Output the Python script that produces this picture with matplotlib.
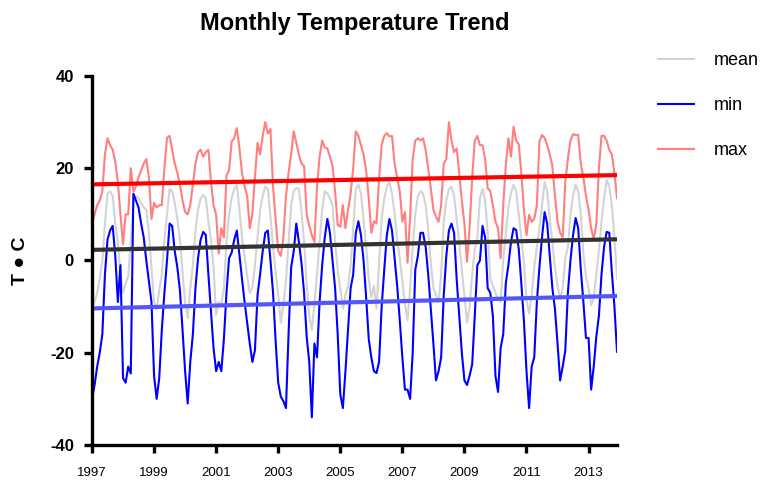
import matplotlib
matplotlib.use("Agg")
import matplotlib.pyplot as plt
import numpy as np

plt.rcParams['font.family'] = ['Liberation Sans', 'DejaVu Sans']

# monthly values, Jan 1997 .. Dec 2013 (one row per year)
mean_t = [
    -10, -9, -7, -4, 0, 8, 14.5, 15, 14, 8, 4, -3,
    -7, -5, -3.5, 4, 12.5, 14, 13.5, 12.5, 11.5, 11, 6, -1.5,
    -9, -10.5, -6.5, -3, 4.5, 10, 15.5, 15, 12.5, 9, 4.5, -2.5,
    -9, -12.5, -6, -1, 6.5, 11, 13.5, 14.2, 13.5, 8.5, 4.5, -1.5,
    -11.8, -9, -9.5, -6, 4, 10, 13.5, 15.5, 16.5, 11, 5, 1,
    -3.5, -7, -6, -1, 5, 11, 14, 16, 15.5, 9.5, 3, -2.5,
    -7.5, -13.5, -9.5, -4.5, 4, 12, 15, 15.7, 15.5, 10.6, 4, -5,
    -12, -15, -9.5, -3, 4, 11, 15, 14.5, 13.5, 12, 4, -2,
    -6, -10.4, -7.5, -5.5, -1, 7, 15.5, 16.5, 14.5, 9, 3, -4,
    -8, -5.5, -10.4, -0.5, 9, 13.5, 16, 17, 14.5, 10, 4.5, 0.5,
    -4.6, -9.5, -13, -6, 3, 10, 14, 15, 14.5, 12, 6.5, -0.5,
    -6, -7.5, -9, -3, 8.4, 13, 15.5, 16, 14, 9, 4, -2,
    -7.5, -13.5, -10, -3, 2.5, 5, 13.5, 15.5, 13, 6, -4, -5.5,
    -7, -8.5, -9, 0, 6, 11.5, 14.5, 16.4, 15, 10, 5, -0.3,
    -8.5, -11.5, -7.5, -1.5, 3, 7, 12, 17, 15, 9, 4, -1.5,
    -5.5, -8.2, -6, 0.5, 3, 10, 14, 16.4, 15, 10, 1.5, -3.5,
    -6, -9.7, -8, -3, 2, 8.4, 13.5, 17.5, 16, 12, 5, -3.9,
]

min_t = [
    -30, -27, -23, -20, -16, -3, 4.5, 6.5, 7.5, 1, -9, -1,
    -25.5, -26.5, -23, -24.5, 14.5, 13, 11.5, 8, 5, 0, -4.5, -9,
    -25, -30, -25.5, -15, -7, 0, 8, 7.5, 2, -1.5, -6.5, -15,
    -24, -31, -22, -16, -6, 0.5, 4.5, 6.2, 5.5, -3, -11, -19,
    -24, -22, -24, -17, -7, 0.5, 1.7, 4.5, 6.5, 1.2, -4, -9,
    -13.5, -18, -22, -19.5, -7.5, -3, 2, 6, 6.5, 0, -7, -17.5,
    -26.5, -29.5, -30.5, -32, -16, -1.5, 2, 8, 4, -0.5, -7, -16.5,
    -22, -34, -18, -21, -9, -1, 5, 9, 6, 0, -6, -16,
    -29, -32, -24, -15, -6, -3, 6, 8.5, 5.5, 0, -8, -17,
    -21, -24, -24.4, -22, -10, -2, 5.5, 9, 6.5, 0.5, -5.5, -13,
    -21, -28, -28, -30, -20, -2, 1, 6, 6, 3, -3, -10.5,
    -18, -26, -24, -21, -7.5, 1, 6.5, 8, 6, -4, -12, -20,
    -26, -27, -25, -22.5, -12, -1, 0, 7.5, 5, -6, -7, -12,
    -25, -28.5, -19, -16, -5, -1, 4, 7, 6.6, 2.5, -5, -13,
    -24, -32, -23, -21, -9, -1.5, 5, 10.5, 8, 1, -6, -10.5,
    -18, -26, -23, -19.5, -7, 0, 5.5, 9.2, 7, -2, -9, -16.8,
    -16.8, -28, -23, -16.5, -12, -3, 3, 6.2, 6, -2.5, -10, -19.8,
]

max_t = [
    8, 10, 12, 13, 15, 23, 26.5, 25, 24, 21.5, 17, 10,
    3.5, 10, 10, 20, 15, 16, 18, 19.5, 21, 22, 18, 9,
    12.5, 11.5, 12, 12, 20, 26.6, 27, 24, 21, 19, 16.5, 13,
    10.5, 10, 12, 16.5, 21, 23.5, 24, 22.5, 23.5, 24, 17, 12,
    9.9, 1.5, 7, 5, 18.5, 19.5, 25.8, 26.5, 28.7, 24.4, 19, 16,
    14, 7, 10, 18, 25.5, 23, 27, 30, 27.5, 28.5, 16, 9,
    2, 1, 5, 14, 19, 23, 28, 25.5, 23, 21, 20.5, 10,
    7.5, 5.5, 4, 16, 22.5, 26, 24.5, 24.3, 22.5, 20.5, 15, 7.7,
    7.3, 12, 7, 11, 14.5, 20, 28, 27, 25, 23, 19.5, 13.5,
    6, 8.5, 8, 17.8, 25, 27, 27.6, 26.9, 27, 21, 18, 15,
    8.4, 10.5, -0.5, 9.5, 22, 26, 26.5, 26, 26.5, 24, 20, 15.7,
    11, 9.5, 8.4, 12, 21, 22, 30, 26, 23.5, 24.3, 19, 13,
    8, -0.3, 7, 18, 26, 27, 25, 25, 22, 15.7, 15, 12,
    8.4, 7, 0.5, 12, 20.5, 26.5, 22.5, 29, 26, 25.2, 19, 11,
    5.5, 9.9, 8.4, 9, 12, 25.8, 27.2, 26.6, 25, 23, 20.5, 14,
    8.5, 6, 5, 17, 22, 26, 27.4, 27.2, 27.2, 21, 18, 14,
    11, 7, 4.5, 8, 20, 27, 27, 26, 24, 23, 19, 13.5,
]

# linear trend values at the first and last month (mean, min, max)
trend_start = [2.3, -10.4, 16.5]
trend_end = [4.6, -7.7, 18.5]

start_year = 1997
year_ticks = [1997, 1999, 2001, 2003, 2005, 2007, 2009, 2011, 2013]
y_ticks = [-40, -20, 0, 20, 40]

t = start_year + np.arange(len(mean_t)) / 12.0

fig = plt.figure(figsize=(7.77, 4.83), dpi=100)
ax = fig.add_axes([0.1184, 0.0787, 0.6757, 0.764])

series = [
    ('mean', mean_t, '#d3d3d3', '#333333'),
    ('min', min_t, '#0000ff', '#5555ff'),
    ('max', max_t, '#ff7f7f', '#ff0000'),
]

for name, vals, c, _ in series:
    ax.plot(t, vals, color=c, linewidth=1.5, label=name)

for (name, vals, _, tc), y0, y1 in zip(series, trend_start, trend_end):
    ax.plot([t[0], t[-1]], [y0, y1], color=tc, linewidth=3.0,
            solid_capstyle='butt')

ax.set_xlim(t[0], t[-1])
ax.set_ylim(-40, 40)
ax.set_xticks(year_ticks)
ax.set_xticklabels([str(y) for y in year_ticks], fontsize=9.5)
ax.set_yticks(y_ticks)
ax.set_yticklabels([str(v) for v in y_ticks], fontsize=12, fontweight='bold')

for s in ['top', 'right']:
    ax.spines[s].set_visible(False)
for s in ['left', 'bottom']:
    ax.spines[s].set_linewidth(2.4)
ax.tick_params(axis='both', width=2.4, length=6, direction='out')
ax.tick_params(axis='x', pad=10)
ax.tick_params(axis='y', pad=7)

ax.set_title('Monthly Temperature Trend', fontsize=17, fontweight='bold', pad=33)
ax.set_ylabel('T ● C', fontsize=14, fontweight='bold', labelpad=15)

fig.legend(loc='upper left', bbox_to_anchor=(0.826, 0.925), frameon=False,
           fontsize=13, handlelength=2.0, labelspacing=1.55, handletextpad=1.1)

fig.savefig('out.png', dpi=100)
